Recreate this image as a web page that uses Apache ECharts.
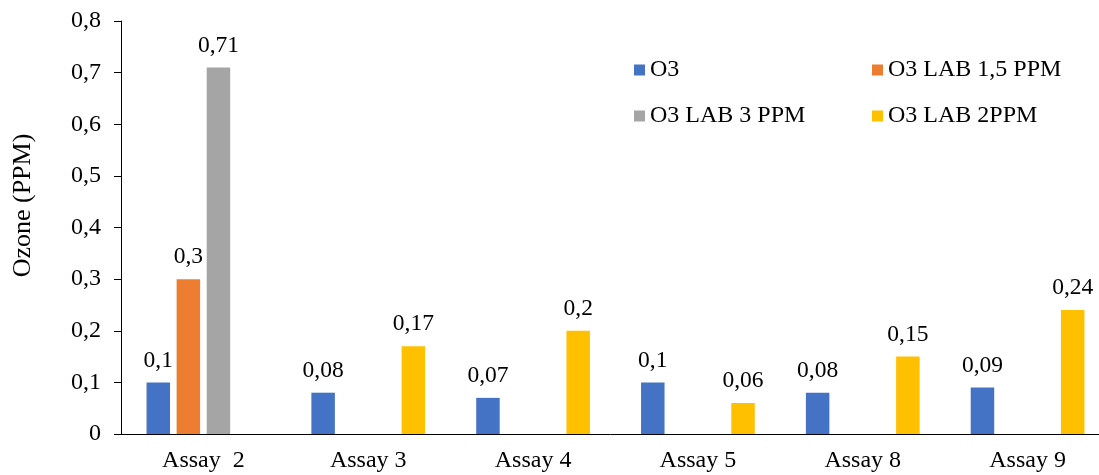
<!DOCTYPE html>
<html>
<head>
<meta charset="utf-8">
<script src="https://cdn.jsdelivr.net/npm/echarts@6/dist/echarts.min.js"></script>
<style>
  html, body { margin: 0; padding: 0; background: #fff; }
  #chart { width: 1099px; height: 475px; }
</style>
</head>
<body>
<div id="chart"></div>
<script>
// Ozone readings per assay (PPM)
const categories = ['Assay  2', 'Assay 3', 'Assay 4', 'Assay 5', 'Assay 8', 'Assay 9'];
const seriesNames = ['O3', 'O3 LAB 1,5 PPM', 'O3 LAB 3 PPM', 'O3 LAB 2PPM'];
const o3 = [0.1, 0.08, 0.07, 0.1, 0.08, 0.09];
const lab15 = [0.3, null, null, null, null, null];
const lab3 = [0.71, null, null, null, null, null];
const lab2 = [null, 0.17, 0.2, 0.06, 0.15, 0.24];
const colors = ['#4472C4', '#ED7D31', '#A5A5A5', '#FFC000'];

const FONT = "'Liberation Serif', 'Times New Roman', serif";
const comma = v => parseFloat(Number(v).toFixed(2)).toString().replace('.', ',');

function barSeries(name, data, color) {
  return {
    name: name,
    type: 'bar',
    data: data,
    barWidth: 23.5,
    barGap: '28%',
    itemStyle: { color: color },
    label: {
      show: true,
      position: 'top',
      distance: 10,
      fontFamily: FONT,
      fontSize: 23.5,
      color: '#000',
      formatter: p => comma(p.value)
    }
  };
}

const legendText = { fontFamily: FONT, fontSize: 24, color: '#000' };

const chart = echarts.init(document.getElementById('chart'), null, { renderer: 'canvas' });
chart.setOption({
  animation: false,
  backgroundColor: '#fff',
  textStyle: { fontFamily: FONT },
  grid: { left: 121, top: 21, bottom: 41, right: -11, containLabel: false, outerBoundsMode: 'none' },
  legend: [
    {
      orient: 'vertical',
      left: 629, top: 53,
      itemWidth: 11, itemHeight: 11, itemGap: 22,
      icon: 'rect',
      data: [seriesNames[0], seriesNames[2]],
      textStyle: legendText
    },
    {
      orient: 'vertical',
      left: 867, top: 53,
      itemWidth: 11, itemHeight: 11, itemGap: 22,
      icon: 'rect',
      data: [seriesNames[1], seriesNames[3]],
      textStyle: legendText
    }
  ],
  xAxis: {
    type: 'category',
    data: categories,
    axisLine: { lineStyle: { color: '#000', width: 1 } },
    axisTick: { show: false },
    axisLabel: { fontFamily: FONT, fontSize: 24, color: '#000', margin: 15 },
    splitLine: { show: false }
  },
  yAxis: {
    type: 'value',
    min: 0, max: 0.8, interval: 0.1,
    name: 'Ozone (PPM)',
    nameLocation: 'middle',
    nameGap: 85,
    nameTextStyle: { fontFamily: FONT, fontSize: 26, color: '#000', padding: [0, 0, 0, 44] },
    axisLine: { show: true, lineStyle: { color: '#000', width: 1 } },
    axisTick: { show: true, length: 7, lineStyle: { color: '#000' } },
    axisLabel: { fontFamily: FONT, fontSize: 24, color: '#000', margin: 20, formatter: v => comma(v) },
    splitLine: { show: false }
  },
  series: [
    barSeries(seriesNames[0], o3, colors[0]),
    barSeries(seriesNames[1], lab15, colors[1]),
    barSeries(seriesNames[2], lab3, colors[2]),
    barSeries(seriesNames[3], lab2, colors[3])
  ]
});
</script>
</body>
</html>
